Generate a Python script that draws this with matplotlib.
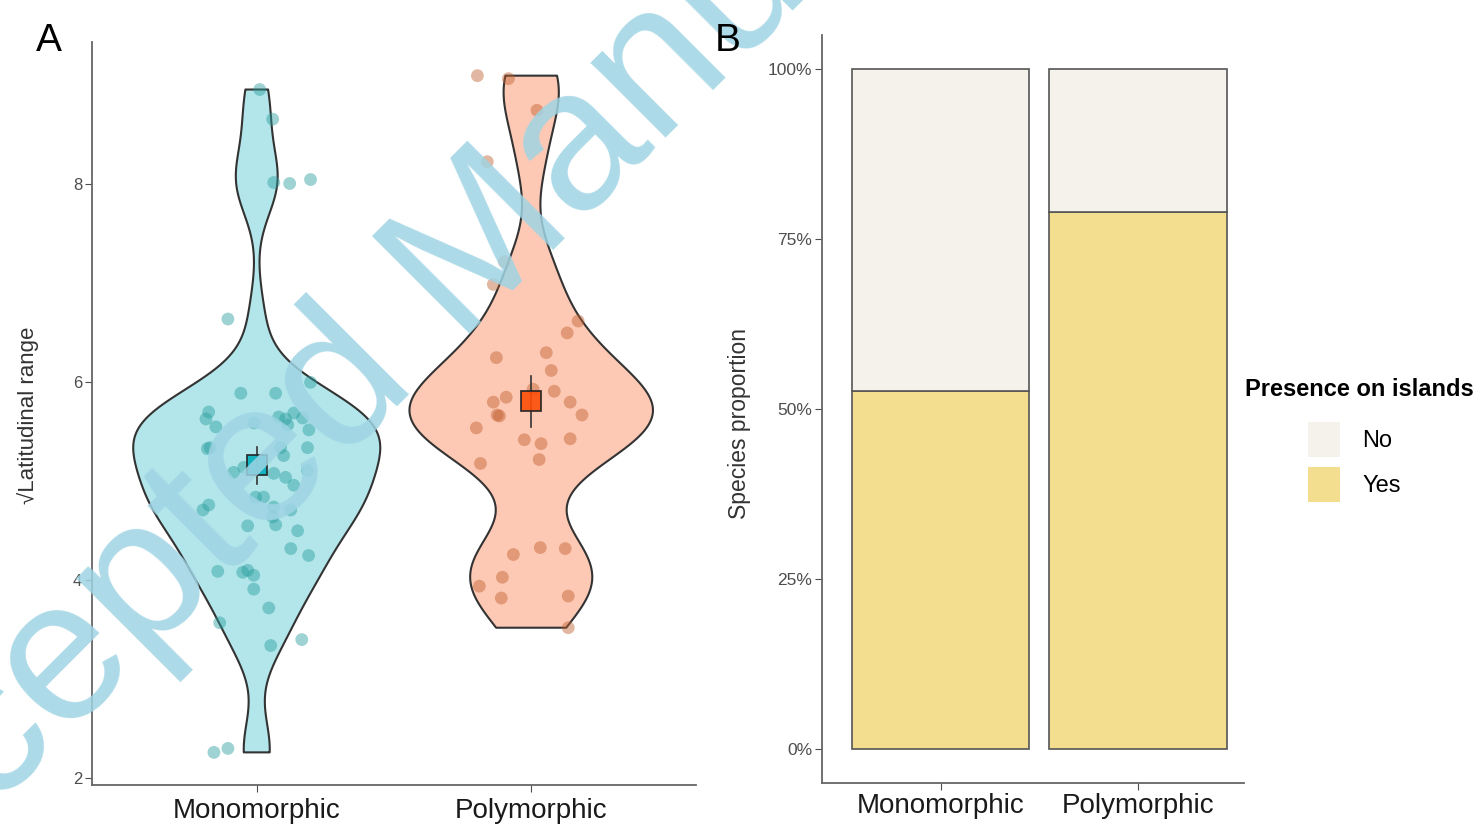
import matplotlib.pyplot as plt
import numpy as np
from matplotlib.patches import Patch

plt.rcParams['font.family'] = ['Liberation Sans', 'DejaVu Sans']

# Panel A data: sqrt latitudinal range per species
groups = ['Monomorphic', 'Polymorphic']
mono_y = [8.96, 8.66, 8.02, 8.01, 8.05, 6.64, 6.00, 5.89, 5.89, 5.70, 5.63, 5.55,
          5.59, 5.65, 5.63, 5.69, 5.64, 5.57, 5.52, 5.33, 5.34, 5.34, 5.26, 5.34,
          5.09, 5.14, 5.08, 5.04, 4.96, 5.11, 4.84, 4.84, 4.71, 4.76, 4.74, 4.64,
          4.56, 4.71, 4.55, 4.50, 4.32, 4.25, 4.09, 4.08, 4.10, 4.05, 3.91, 3.72,
          3.57, 3.34, 3.40, 2.26, 2.30]
mono_jit = [0.011, 0.058, 0.062, 0.120, 0.196, -0.105, 0.196, -0.058, 0.069, -0.175,
            -0.185, -0.149, -0.010, 0.080, 0.105, 0.135, 0.167, 0.113, 0.190, -0.180,
            -0.170, 0.087, 0.098, 0.185, -0.084, -0.047, 0.062, 0.105, 0.135, 0.185,
            -0.004, 0.025, -0.196, -0.175, 0.062, 0.058, 0.069, 0.124, -0.033, 0.149,
            0.124, 0.189, -0.142, -0.051, -0.033, -0.011, -0.011, 0.044, -0.135, 0.051,
            0.164, -0.156, -0.105]
poly_y = [9.10, 9.07, 8.75, 8.23, 7.22, 6.99, 6.62, 6.50, 6.25, 6.30, 6.12, 5.91,
          5.93, 5.85, 5.80, 5.67, 5.66, 5.80, 5.67, 5.54, 5.42, 5.38, 5.43, 5.18,
          5.22, 4.26, 4.33, 4.32, 4.03, 3.94, 3.82, 3.84, 3.52]
poly_jit = [-0.196, -0.083, 0.021, -0.160, -0.098, -0.138, 0.171, 0.131, -0.127, 0.055,
            0.073, 0.084, 0.007, -0.091, -0.138, -0.124, -0.116, 0.142, 0.185, -0.200,
            -0.025, 0.036, 0.142, -0.185, 0.029, -0.065, 0.033, 0.124, -0.105, -0.189,
            -0.109, 0.135, 0.135]

# Panel B data: proportion of species present on islands
prop_yes = [0.527, 0.789]
prop_no = [1 - p for p in prop_yes]

pal = ['#00AFBB', '#FC4E07']
pt_col = ['#2A9E9E', '#C0602F']
yes_col = '#F3DE8F'
no_col = '#F4F2EA'


def kde_nrd0(vals, grid):
    vals = np.asarray(vals)
    n = len(vals)
    iqr = np.subtract(*np.percentile(vals, [75, 25]))
    bw = 0.9 * min(vals.std(ddof=1), iqr / 1.34) * n ** (-0.2)
    d = np.exp(-0.5 * ((grid[:, None] - vals[None, :]) / bw) ** 2).sum(axis=1)
    return d / (n * bw * np.sqrt(2 * np.pi))


fig = plt.figure(figsize=(14.8, 8.24), dpi=100)
ax1 = fig.add_axes([0.0622, 0.0473, 0.408, 0.9017])
ax2 = fig.add_axes([0.5554, 0.0498, 0.285, 0.908])

# ---- panel A: violins
data = [mono_y, poly_y]
jits = [mono_jit, poly_jit]
grids, dens = [], []
for vals in data:
    g = np.linspace(min(vals), max(vals), 512)
    grids.append(g)
    dens.append(kde_nrd0(vals, g))
dmax = max(d.max() for d in dens)

for i, vals in enumerate(data):
    pos = i + 1
    hw = 0.45 * dens[i] / dmax
    ax1.fill_betweenx(grids[i], pos - hw, pos + hw, facecolor=pal[i], alpha=0.3,
                      edgecolor='none', zorder=1)
    ax1.fill_betweenx(grids[i], pos - hw, pos + hw, facecolor='none',
                      edgecolor='#333333', linewidth=1.5, zorder=2)
    ax1.scatter(pos + np.array(jits[i]), vals, s=85, color=pt_col[i], alpha=0.45,
                edgecolors='none', zorder=3)
    m = np.mean(vals)
    se = np.std(vals, ddof=1) / np.sqrt(len(vals))
    ax1.plot([pos, pos], [m - se, m + se], color='#333333', lw=1.2, zorder=4)
    ax1.plot(pos, m, marker='s', markersize=15, markerfacecolor=pal[i],
             markeredgecolor='#222222', markeredgewidth=1.3, alpha=0.9, zorder=5)

ax1.set_xlim(0.4, 2.6)
ax1.set_ylim(1.93, 9.44)
ax1.set_xticks([1, 2])
ax1.set_xticklabels(groups, fontsize=20, color='#1a1a1a')
ax1.set_yticks([2, 4, 6, 8])
ax1.tick_params(axis='y', labelsize=12, colors='#4D4D4D', length=5, pad=2)
ax1.tick_params(axis='x', length=5, pad=4, color='#4D4D4D')
ax1.set_ylabel('\u221aLatitudinal range', fontsize=16, color='#333333')
ax1.yaxis.set_label_coords(-0.088, 0.497)

# ---- panel B: stacked proportions
xpos = np.arange(1, len(groups) + 1)
ax2.bar(xpos, prop_yes, width=0.9, color=yes_col, edgecolor='#555555', lw=1.2,
        label='Yes')
ax2.bar(xpos, prop_no, width=0.9, bottom=prop_yes, color=no_col,
        edgecolor='#555555', lw=1.2, label='No')
ax2.set_xlim(0.4, 2.535)
ax2.set_ylim(-0.05, 1.05)
ax2.set_xticks(xpos)
ax2.set_xticklabels(groups, fontsize=20, color='#1a1a1a')
ax2.set_yticks([0, 0.25, 0.5, 0.75, 1.0])
ax2.set_yticklabels(['0%', '25%', '50%', '75%', '100%'])
ax2.tick_params(axis='y', labelsize=12.5, colors='#4D4D4D', length=5, pad=2)
ax2.tick_params(axis='x', length=5, pad=2, color='#4D4D4D')
ax2.set_ylabel('Species proportion', fontsize=16.5, color='#333333')
ax2.yaxis.set_label_coords(-0.168, 0.481)

for ax in (ax1, ax2):
    for side in ('top', 'right'):
        ax.spines[side].set_visible(False)
    for side in ('left', 'bottom'):
        ax.spines[side].set_color('#666666')
        ax.spines[side].set_linewidth(1.3)

fig.text(0.841, 0.527, 'Presence on islands', fontsize=17, fontweight='bold',
         ha='left', va='center')
handles = [Patch(facecolor=no_col, edgecolor='none'),
           Patch(facecolor=yes_col, edgecolor='none')]
fig.legend(handles, ['No', 'Yes'], loc='upper left', bbox_to_anchor=(0.8838, 0.4880),
           frameon=False, fontsize=17, handlelength=1.35, handleheight=1.9,
           labelspacing=0.45, handletextpad=0.95, borderpad=0, borderaxespad=0)

fig.text(0.024, 0.95, 'A', fontsize=28, ha='left', va='center', zorder=12)
fig.text(0.483, 0.95, 'B', fontsize=28, ha='left', va='center', zorder=12)

# journal watermark
fig.text(0.3068, 0.6638, 'Accepted Manuscript', fontsize=145, color='#9FD4E4',
         alpha=0.85, rotation=45, rotation_mode='anchor', ha='center', va='center',
         zorder=10)

fig.savefig('out.png', dpi=100)
